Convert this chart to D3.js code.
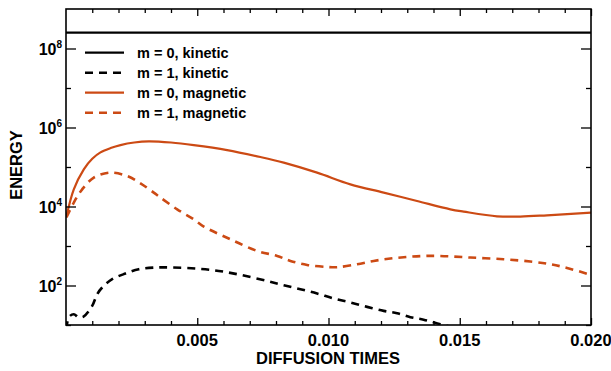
<!DOCTYPE html>
<html><head><meta charset="utf-8">
<script src="https://cdn.jsdelivr.net/npm/d3@7"></script>
<style>body{margin:0;background:#fff}text{font-family:"Liberation Sans",Arial,sans-serif;font-weight:bold;fill:#000}</style>
</head><body><svg id="c" width="611" height="371"></svg>
<script>
// data: time (diffusion times), log10(energy)
const seriesNames = ["m = 0, kinetic","m = 1, kinetic","m = 0, magnetic","m = 1, magnetic"];
const k0T = [0, 0.020];
const k0L = [8.40, 8.40];
const k1T = [0.00002,0.000107,0.000297,0.000476,0.000666,0.000998,0.001188,0.001378,0.001759,0.002266,0.002772,0.003408,0.004044,0.004931,0.005819,0.006710,0.007662,0.008294,0.008930,0.009566,0.010198,0.010834,0.011470,0.012102,0.012612,0.013119,0.013625,0.014261,0.015023];
const k1L = [0.895,1.198,1.274,1.198,1.211,1.484,1.780,1.949,2.159,2.303,2.412,2.455,2.455,2.430,2.369,2.260,2.116,2.008,1.907,1.798,1.671,1.570,1.459,1.358,1.300,1.198,1.135,1.021,0.895];
const m0T = [0.0000076,0.000297,0.000678,0.001000,0.001314,0.001700,0.002075,0.002600,0.003153,0.004000,0.004867,0.006139,0.007407,0.008294,0.009566,0.010834,0.012102,0.013374,0.014642,0.015149,0.016420,0.017308,0.018324,0.020061];
const m0L = [3.719,4.435,4.941,5.210,5.370,5.480,5.555,5.620,5.649,5.620,5.555,5.429,5.252,5.110,4.857,4.561,4.351,4.139,3.929,3.871,3.752,3.745,3.777,3.846];
const m1T = [0.000019,0.000297,0.000617,0.001059,0.001695,0.002331,0.002837,0.003343,0.003599,0.004235,0.004867,0.005248,0.006264,0.007281,0.008043,0.008549,0.009185,0.009947,0.010327,0.011089,0.011721,0.012357,0.012993,0.013625,0.014261,0.015404,0.016672,0.017688,0.018450,0.019086,0.020038];
const m1L = [3.727,4.099,4.435,4.731,4.857,4.771,4.587,4.351,4.225,3.929,3.676,3.492,3.171,2.875,2.748,2.622,2.521,2.470,2.463,2.539,2.622,2.683,2.723,2.748,2.748,2.708,2.665,2.607,2.539,2.445,2.260];
const xTickVals = [0.005,0.010,0.015,0.020];
const xTickLabels = ["0.005","0.010","0.015","0.020"];
const yTickExp = [2,4,6,8];

const W=611,H=371, L=66, R=591, T=9, B=325;
const orange="#cc4a14";
const svg=d3.select("#c");
const x=d3.scaleLinear().domain([0,0.020]).range([L,R]);
const y=d3.scaleLog().domain([10,1e9]).range([B,T]);

svg.append("clipPath").attr("id","clip").append("rect").attr("x",L).attr("y",T).attr("width",R-L).attr("height",B-T);

const series=[
 {t:k0T,l:k0L,color:"#000",dash:null},
 {t:k1T,l:k1L,color:"#000",dash:"8,6"},
 {t:m0T,l:m0L,color:orange,dash:null},
 {t:m1T,l:m1L,color:orange,dash:"8,6"}
];
const line=d3.line().x(d=>x(d[0])).y(d=>y(Math.pow(10,d[1]))).curve(d3.curveCatmullRom.alpha(0.5));
const g=svg.append("g").attr("clip-path","url(#clip)");
series.forEach(s=>{
  const pts=s.t.map((t,i)=>[t,s.l[i]]);
  g.append("path").attr("d",line(pts)).attr("fill","none").attr("stroke",s.color)
   .attr("stroke-width",s.dash?2.6:2.2).attr("stroke-dasharray",s.dash);
});

// axes with inward ticks
const minorX=d3.range(1,20).map(i=>i*0.001).filter(v=>xTickVals.indexOf(+v.toFixed(3))<0);
const axB=d3.axisBottom(x).tickValues(xTickVals).tickSize(-7).tickFormat("");
const axBm=d3.axisBottom(x).tickValues(minorX).tickSize(-4).tickFormat("");
const axT=d3.axisTop(x).tickValues(xTickVals).tickSize(-7).tickFormat("");
const axTm=d3.axisTop(x).tickValues(minorX).tickSize(-4).tickFormat("");
const majorY=yTickExp.map(e=>Math.pow(10,e));
const minorY=[1,3,5,7].map(e=>Math.pow(10,e));
const axL=d3.axisLeft(y).tickValues(majorY).tickSize(-10).tickFormat("");
const axLm=d3.axisLeft(y).tickValues(minorY).tickSize(-5).tickFormat("");
const axR=d3.axisRight(y).tickValues(majorY).tickSize(-10).tickFormat("");
const axRm=d3.axisRight(y).tickValues(minorY).tickSize(-5).tickFormat("");
function ax(a,tr){const s=svg.append("g").attr("transform",tr).call(a);s.select(".domain").remove();s.selectAll("line").attr("stroke","#000").attr("stroke-width",1.3);}
ax(axB,`translate(0,${B})`);ax(axBm,`translate(0,${B})`);
ax(axT,`translate(0,${T})`);ax(axTm,`translate(0,${T})`);
ax(axL,`translate(${L},0)`);ax(axLm,`translate(${L},0)`);
ax(axR,`translate(${R},0)`);ax(axRm,`translate(${R},0)`);
svg.append("rect").attr("x",L).attr("y",T).attr("width",R-L).attr("height",B-T).attr("fill","none").attr("stroke","#000").attr("stroke-width",1.6);

// tick labels
xTickVals.forEach((v,i)=>{
  svg.append("text").attr("x",x(v)).attr("y",346).attr("text-anchor","middle").attr("font-size",16.5).text(xTickLabels[i]);
});
yTickExp.forEach(e=>{
  const t=svg.append("text").attr("x",62).attr("y",y(Math.pow(10,e))+6).attr("text-anchor","end").attr("font-size",16);
  t.append("tspan").text("10");
  t.append("tspan").attr("dy",-7).attr("font-size",10).text(e);
});
svg.append("text").attr("x",328).attr("y",364).attr("text-anchor","middle").attr("font-size",16.5).text("DIFFUSION TIMES");
svg.append("text").attr("transform","translate(22,165) rotate(-90)").attr("text-anchor","middle").attr("font-size",16.5).text("ENERGY");

// legend
series.forEach((s,i)=>{
  const yy=52.7+i*20;
  svg.append("line").attr("x1",85).attr("x2",124).attr("y1",yy).attr("y2",yy).attr("stroke",s.color).attr("stroke-width",s.dash?2.6:2.2).attr("stroke-dasharray",s.dash);
  svg.append("text").attr("x",137).attr("y",yy+5).attr("font-size",14.5).text(seriesNames[i]);
});
</script></body></html>
